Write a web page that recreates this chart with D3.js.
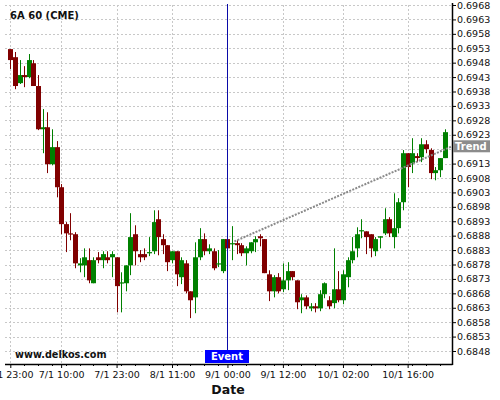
<!DOCTYPE html>
<html>
<head>
<meta charset="utf-8">
<script src="https://cdn.jsdelivr.net/npm/d3@7"></script>
<style>
  body { margin: 0; background: #fff; }
  text { font-family: "DejaVu Sans", sans-serif; }
</style>
</head>
<body>
<script>
// hourly candles, 6A (CME)
var open = [.69527,.69499,.69409,.69437,.69430,.69478,.69399,.69249,.69256,.69128,
  .69187,.69048,.68920,.68888,.68885,.68777,.68777,.68795,.68715,.68805,
  .68795,.68805,.68805,.68805,.68715,.68715,.68777,.68885,.68816,.68816,
  .68819,.68826,.68937,.68868,.68847,.68795,.68826,.68736,.68784,.68687,
  .68666,.68805,.68868,.68826,.68826,.68781,.68757,.68868,.68850,.68854,
  .68847,.68819,.68826,.68857,.68878,.68868,.68746,.68687,.68736,.68694,
  .68725,.68757,.68725,.68656,.68666,.68628,.68635,.68628,.68677,.68656,
  .68646,.68694,.68656,.68736,.68795,.68836,.68895,.68895,.68885,.68826,
  .68873,.68888,.68937,.68875,.68906,.68996,.69166,.69131,.69156,.69152,
  .69197,.69177,.69097,.69107,.69149];
var high = [.69527,.69517,.69489,.69468,.69510,.69489,.69437,.69319,.69308,.69249,
  .69208,.69059,.68927,.68958,.68892,.68802,.68836,.68836,.68805,.68823,
  .68826,.68826,.68826,.68805,.68753,.68777,.68958,.68916,.68830,.68836,
  .68875,.68968,.68968,.68885,.68847,.68826,.68826,.68805,.68795,.68687,
  .68857,.68906,.68888,.68850,.68836,.68830,.68868,.68875,.68913,.68864,
  .68854,.68843,.68857,.68878,.68885,.68868,.68760,.68743,.68750,.68784,
  .68788,.68757,.68725,.68677,.68673,.68646,.68646,.68691,.68718,.68670,
  .68836,.68757,.68760,.68805,.68875,.68909,.68937,.68895,.68885,.68875,
  .68878,.68975,.68944,.69027,.69010,.69177,.69166,.69218,.69166,.69218,
  .69211,.69183,.69118,.69149,.69249];
var low = [.69458,.69388,.69406,.69395,.69426,.69399,.69246,.69166,.69097,.69124,
  .69013,.68885,.68823,.68864,.68767,.68753,.68736,.68715,.68715,.68784,
  .68767,.68784,.68736,.68614,.68614,.68687,.68743,.68777,.68788,.68795,
  .68809,.68816,.68812,.68816,.68757,.68784,.68705,.68712,.68680,.68594,
  .68611,.68795,.68812,.68816,.68760,.68771,.68750,.68830,.68795,.68816,
  .68809,.68777,.68819,.68823,.68843,.68750,.68653,.68666,.68680,.68684,
  .68691,.68725,.68625,.68611,.68625,.68618,.68614,.68618,.68663,.68625,
  .68628,.68649,.68642,.68701,.68784,.68805,.68871,.68816,.68805,.68809,
  .68836,.68882,.68875,.68836,.68888,.68968,.69048,.69097,.69135,.69135,
  .69166,.69076,.69072,.69083,.69149];
var close = [.69489,.69399,.69437,.69430,.69489,.69399,.69249,.69256,.69128,.69187,
  .69048,.68920,.68888,.68885,.68784,.68784,.68805,.68725,.68795,.68795,
  .68816,.68795,.68816,.68705,.68718,.68777,.68875,.68826,.68805,.68805,
  .68823,.68927,.68875,.68847,.68788,.68826,.68746,.68795,.68687,.68656,
  .68805,.68868,.68826,.68836,.68767,.68784,.68868,.68836,.68854,.68847,
  .68819,.68836,.68857,.68868,.68871,.68750,.68687,.68736,.68687,.68725,
  .68757,.68736,.68649,.68666,.68635,.68635,.68628,.68677,.68715,.68635,
  .68694,.68656,.68746,.68795,.68826,.68885,.68899,.68875,.68836,.68868,
  .68878,.68937,.68888,.68906,.68996,.69166,.69118,.69166,.69149,.69197,
  .69180,.69097,.69107,.69149,.69239];

var dateLabels = ["6/1 23:00", "7/1 10:00", "7/1 23:00", "8/1 11:00", "9/1 00:00", "9/1 12:00", "10/1 02:00", "10/1 16:00"];
var dateIdx = [0, 11, 23, 35, 47, 59, 72, 86];
var priceTicks = d3.range(0, 25).map(function (k) { return +(0.6848 + k * 0.0005).toFixed(4); });

var eventIdx = 47;
var trendIdx = [48.5, 95.6];
var trendVal = [0.6886, 0.6919];

var width = 500, height = 400,
    plotLeft = 5, plotRight = 452, plotTop = 4, plotBottom = 364;

var svg = d3.select("body").append("svg")
    .attr("width", width)
    .attr("height", height);

var x = d3.scaleLinear().domain([0, 94]).range([10.3, 444.6]);
var y = d3.scaleLinear().domain([0.6848, 0.6968]).range([351, 5]);

// grid
var grid = svg.append("g").attr("class", "grid")
    .attr("stroke", "#c8c8c8").attr("stroke-dasharray", "2,2");
grid.selectAll("line.h").data(priceTicks).enter().append("line")
    .attr("class", "h")
    .attr("x1", plotLeft).attr("x2", plotRight)
    .attr("y1", function (d) { return Math.round(y(d)) + 0.5; })
    .attr("y2", function (d) { return Math.round(y(d)) + 0.5; });
grid.selectAll("line.v").data(dateIdx).enter().append("line")
    .attr("class", "v")
    .attr("y1", plotTop + 1).attr("y2", plotBottom)
    .attr("x1", function (d) { return Math.round(x(d)) + 0.5; })
    .attr("x2", function (d) { return Math.round(x(d)) + 0.5; });

// candles
var candles = svg.append("g").attr("class", "candles")
    .selectAll("g").data(d3.range(open.length)).enter().append("g")
    .attr("fill", function (i) { return close[i] > open[i] ? "#008000" : "#800000"; })
    .attr("stroke", function (i) { return close[i] > open[i] ? "#008000" : "#800000"; });

candles.append("line")
    .attr("x1", function (i) { return Math.round(x(i)) + 0.5; })
    .attr("x2", function (i) { return Math.round(x(i)) + 0.5; })
    .attr("y1", function (i) { return y(high[i]); })
    .attr("y2", function (i) { return y(low[i]); });

candles.append("rect")
    .attr("stroke", "none")
    .attr("x", function (i) { return Math.round(x(i)) - 2; })
    .attr("width", 5)
    .attr("y", function (i) { return y(Math.max(open[i], close[i])); })
    .attr("height", function (i) { return Math.max(1.2, Math.abs(y(open[i]) - y(close[i]))); });

// trend
svg.append("line")
    .attr("x1", x(trendIdx[0])).attr("y1", y(trendVal[0]))
    .attr("x2", x(trendIdx[1])).attr("y2", y(trendVal[1]))
    .attr("stroke", "#8a8a8a").attr("stroke-width", 2).attr("stroke-dasharray", "2,1.3");

// event
svg.append("line")
    .attr("x1", Math.round(x(eventIdx)) + 0.5).attr("x2", Math.round(x(eventIdx)) + 0.5)
    .attr("y1", plotTop).attr("y2", 350)
    .attr("stroke", "#0a0aa8");

// axes
var yAxis = svg.append("g")
    .attr("transform", "translate(" + plotRight + ",0)")
    .call(d3.axisRight(y).tickValues(priceTicks).tickSize(4).tickSizeOuter(0).tickFormat(d3.format(".4f")));
yAxis.select(".domain").remove();
yAxis.selectAll("text").attr("font-family", "DejaVu Sans").attr("font-size", "9.5px").attr("fill", "#111").attr("x", 5);
// the trend tag sits on top of this one
yAxis.selectAll(".tick").filter(function (d) { return Math.abs(d - 0.6918) < 1e-6; }).select("text").remove();

var xAxis = svg.append("g")
    .attr("transform", "translate(0," + plotBottom + ")")
    .call(d3.axisBottom(x).tickValues(dateIdx).tickSize(4).tickSizeOuter(0)
        .tickFormat(function (d, i) { return dateLabels[i]; }));
xAxis.select(".domain").remove();
xAxis.selectAll("text").attr("font-family", "DejaVu Sans").attr("font-size", "9.5px").attr("fill", "#111").attr("y", 7);

var minor = d3.range(0, 95, 3).filter(function (i) { return dateIdx.indexOf(i) < 0; });
svg.append("g").selectAll("line").data(minor).enter().append("line")
    .attr("x1", function (i) { return Math.round(x(i)) + 0.5; })
    .attr("x2", function (i) { return Math.round(x(i)) + 0.5; })
    .attr("y1", plotBottom).attr("y2", plotBottom + 2)
    .attr("stroke", "#000");

svg.append("line")
    .attr("x1", plotLeft).attr("x2", plotRight + 0.5)
    .attr("y1", plotBottom + 0.5).attr("y2", plotBottom + 0.5)
    .attr("stroke", "#000").attr("stroke-width", 1.5);
svg.append("line")
    .attr("x1", plotRight + 0.5).attr("x2", plotRight + 0.5)
    .attr("y1", plotTop - 1).attr("y2", plotBottom + 1)
    .attr("stroke", "#000").attr("stroke-width", 1.5);

// labels
svg.append("text").attr("x", 10).attr("y", 19)
    .attr("font-size", "10px").attr("font-weight", "bold").attr("fill", "#111")
    .text("6A 60 (CME)");
svg.append("text").attr("x", 15).attr("y", 358)
    .attr("font-size", "9.7px").attr("font-weight", "bold").attr("fill", "#111")
    .text("www.delkos.com");
svg.append("text").attr("x", 228).attr("y", 394).attr("text-anchor", "middle")
    .attr("font-size", "12.5px").attr("font-weight", "bold").attr("fill", "#111")
    .text("Date");

svg.append("rect").attr("x", 205).attr("y", 350).attr("width", 44).attr("height", 13).attr("fill", "#0000ff");
svg.append("text").attr("x", 227).attr("y", 360).attr("text-anchor", "middle")
    .attr("font-size", "10px").attr("font-weight", "bold").attr("fill", "#fff")
    .text("Event");

svg.append("rect").attr("x", plotRight + 1).attr("y", y(trendVal[1]) - 6).attr("width", 37).attr("height", 12).attr("fill", "#8c8c8c");
svg.append("text").attr("x", plotRight + 3).attr("y", y(trendVal[1]) + 4)
    .attr("font-size", "10px").attr("font-weight", "bold").attr("fill", "#fff")
    .text("Trend");
</script>
</body>
</html>
